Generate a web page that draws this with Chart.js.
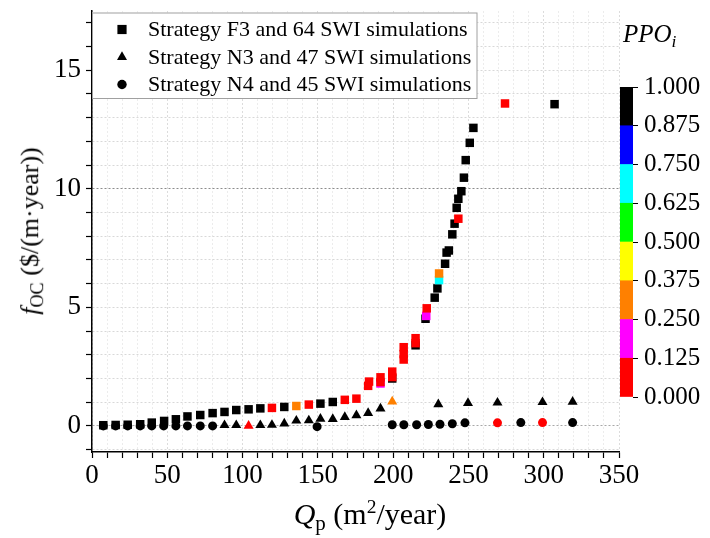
<!DOCTYPE html>
<html>
<head>
<meta charset="utf-8">
<script src="https://cdn.jsdelivr.net/npm/chart.js@4.4.0/dist/chart.umd.min.js"></script>
<style>
    html, body { margin: 0; padding: 0; background: #fff; }
    #contenedor { position: relative; width: 710px; height: 538px; overflow: hidden;
        font-family: "Liberation Serif", "Times New Roman", serif; color: #000; }
    #grafica-costos { position: absolute; left: 0; top: 0; }
    #grafica-ppo { position: absolute; left: 620px; top: 70px; }
    .titulo { position: absolute; white-space: nowrap; line-height: 1; }
    .titulo sub { font-size: 0.7em; vertical-align: -0.3em; }
    .titulo sup { font-size: 0.65em; vertical-align: 0.55em; }
    #titulo-x { left: 0; width: 740px; top: 497px; text-align: center; font-size: 30px; }
    #titulo-y { left: 32px; top: 231px; font-size: 26px; transform: translate(-50%, -50%) rotate(-90deg); }
    #titulo-ppo { left: 623px; top: 21px; font-size: 25px; }
</style>
</head>
<body>
<div id="contenedor">
    <canvas id="grafica-costos" width="710" height="538"></canvas>
    <canvas id="grafica-ppo" width="90" height="345"></canvas>
    <div class="titulo" id="titulo-x"><i>Q</i><sub>p</sub> (m<sup>2</sup>/year)</div>
    <div class="titulo" id="titulo-y"><i>f</i><sub>OC</sub> ($/(m·year))</div>
    <div class="titulo" id="titulo-ppo"><i>PPO<sub>i</sub></i></div>
</div>
<script>
//Etiquetas de los ejes
const ticksQ = [0, 50, 100, 150, 200, 250, 300, 350];
const ticksCosto = [0, 5, 10, 15];
const ticksPPO = [0, 0.125, 0.25, 0.375, 0.5, 0.625, 0.75, 0.875, 1];
const coloresPPO = ['#ff0000', '#ff00ff', '#ff8000', '#ffff00', '#00ff00', '#00ffff', '#0000ff', '#000000'];

//Estrategia F3 (64 simulaciones SWI)
const f3Q = [7.5, 15.7, 23.7, 32, 39.7, 47.9, 55.7, 63.4, 71.9, 80.1, 88, 95.8, 104, 111.8, 119.5, 127.7,
    135.7, 144, 151.7, 159.9, 167.9, 175.6, 183.4, 184, 191.6, 191.6, 191.6, 199.4, 199.4, 199.4,
    207, 207, 207, 214.9, 214.9, 214.9, 221.5, 222, 222.3, 227.6, 229.4, 230.5, 230.5, 234.5, 235.5,
    237, 239.3, 240.8, 243.3, 242.2, 243.3, 245.3, 247, 248.2, 250.9, 253.3, 274.3, 307.2];
const f3Costo = [0.03, 0.04, 0.05, 0.07, 0.14, 0.21, 0.28, 0.40, 0.46, 0.54, 0.59, 0.67, 0.70, 0.74, 0.76, 0.80,
    0.84, 0.90, 0.94, 1.01, 1.10, 1.15, 1.69, 1.87, 1.79, 1.85, 2.05, 2.0, 2.06, 2.29,
    2.80, 3.03, 3.32, 3.40, 3.49, 3.70, 4.52, 4.64, 4.96, 5.41, 5.80, 6.15, 6.43, 6.84, 7.31,
    7.40, 8.08, 8.53, 8.74, 9.20, 9.58, 9.90, 10.47, 11.21, 11.94, 12.57, 13.60, 13.57];
const f3PPO = [0.95, 0.95, 0.95, 0.95, 0.95, 0.95, 0.95, 0.95, 0.95, 0.95, 0.95, 0.95, 0.95, 0.95, 0.05, 0.95,
    0.3, 0.05, 0.95, 0.95, 0.05, 0.05, 0.05, 0.05, 0.2, 0.05, 0.05, 0.95, 0.05, 0.05,
    0.05, 0.05, 0.05, 0.95, 0.05, 0.05, 0.95, 0.2, 0.05, 0.95, 0.95, 0.7, 0.3, 0.95, 0.95,
    0.95, 0.95, 0.95, 0.05, 0.95, 0.95, 0.95, 0.95, 0.95, 0.95, 0.95, 0.05, 0.95];

//Estrategia N3 (47 simulaciones SWI)
const n3Q = [88, 95.8, 104, 111.8, 119.5, 127.7, 135.7, 144, 151.7, 159.9, 167.9, 175.6, 183.4, 191.6,
    199.4, 230, 249.7, 269.3, 299.2, 319.2];
const n3Costo = [0.03, 0.03, 0.0, 0.03, 0.04, 0.10, 0.22, 0.23, 0.30, 0.29, 0.37, 0.45, 0.54, 0.73,
    1.03, 0.91, 0.96, 0.98, 1.0, 1.02];
const n3PPO = [0.95, 0.95, 0.05, 0.95, 0.95, 0.95, 0.95, 0.95, 0.95, 0.95, 0.95, 0.95, 0.95, 0.95,
    0.3, 0.95, 0.95, 0.95, 0.95, 0.95];

//Estrategia N4 (45 simulaciones SWI)
const n4Q = [7.5, 15.7, 23.7, 32, 39.7, 47.6, 55.7, 63.4, 71.9, 80.1, 149.5, 199.4, 207.1, 215.6,
    223.4, 231.1, 239.3, 247.7, 269.3, 284.8, 299.2, 319.2];
const n4Costo = [0, 0, 0, 0, 0, 0, 0, 0, 0, 0, -0.03, 0.05, 0.05, 0.05,
    0.06, 0.07, 0.09, 0.13, 0.13, 0.14, 0.14, 0.14];
const n4PPO = [0.95, 0.95, 0.95, 0.95, 0.95, 0.95, 0.95, 0.95, 0.95, 0.95, 0.95, 0.95, 0.95, 0.95,
    0.95, 0.95, 0.95, 0.95, 0.05, 0.95, 0.05, 0.95];

const fuente = '"Liberation Serif", "Times New Roman", serif';

//Color según el intervalo de PPO
function colorPPO(v) {
    const i = Math.min(coloresPPO.length - 1, Math.floor(v / 0.125));
    return coloresPPO[i];
}

function puntos(qs, costos) {
    return qs.map((q, i) => ({ x: q, y: costos[i] }));
}

//Quitar el margen extra que Chart.js reserva para las etiquetas de los extremos
function sinMargen(s) {
    s.paddingTop = 0;
    s.paddingBottom = 0;
    s.paddingLeft = 0;
    s.paddingRight = 0;
}

//Leyenda con marco dentro del área de la gráfica
const leyendaMarco = {
    id: 'leyendaMarco',
    afterDatasetsDraw(chart) {
        const { ctx, chartArea } = chart;
        const x0 = chartArea.left, y0 = chartArea.top + 1.5;
        ctx.save();
        ctx.fillStyle = '#fff';
        ctx.fillRect(x0, y0, 385, 86);
        ctx.strokeStyle = '#a0a0a0';
        ctx.lineWidth = 1;
        ctx.strokeRect(x0 + 0.5, y0 + 0.5, 384.5, 85.5);
        chart.data.datasets.forEach((ds, i) => {
            const y = y0 + 17 + i * 27.5;
            ctx.fillStyle = '#000';
            Chart.helpers.drawPoint(ctx, { pointStyle: ds.pointStyle, radius: ds.radioLeyenda, borderWidth: 0, rotation: 0 }, x0 + 30, y);
            ctx.font = '22px ' + fuente;
            ctx.textBaseline = 'middle';
            ctx.textAlign = 'left';
            ctx.fillText(ds.label, x0 + 56, y + 1);
        });
        ctx.restore();
    }
};

document.addEventListener('DOMContentLoaded', function() {
    createCostosChart();
    createBarraPPO();
});

//Gráfica principal: costo frente a caudal
function createCostosChart() {
    const ctx = document.getElementById('grafica-costos').getContext('2d');
    new Chart(ctx, {
        type: 'scatter',
        data: {
            datasets: [{
                label: 'Strategy F3 and 64 SWI simulations',
                data: puntos(f3Q, f3Costo),
                pointStyle: 'rect',
                pointRadius: 6,
                radioLeyenda: 6.5,
                pointBackgroundColor: f3PPO.map(colorPPO),
                pointBorderWidth: 0
            }, {
                label: 'Strategy N3 and 47 SWI simulations',
                data: puntos(n3Q, n3Costo),
                pointStyle: 'triangle',
                pointRadius: 5.8,
                radioLeyenda: 5.8,
                pointBackgroundColor: n3PPO.map(colorPPO),
                pointBorderWidth: 0
            }, {
                label: 'Strategy N4 and 45 SWI simulations',
                data: puntos(n4Q, n4Costo),
                pointStyle: 'circle',
                pointRadius: 4.5,
                radioLeyenda: 4.7,
                pointBackgroundColor: n4PPO.map(colorPPO),
                pointBorderWidth: 0
            }]
        },
        options: {
            responsive: false,
            animation: false,
            layout: { padding: { top: 11, right: 91, left: 0, bottom: 0 } },
            plugins: {
                legend: { display: false },
                tooltip: { enabled: false }
            },
            scales: {
                x: {
                    type: 'linear',
                    min: 0,
                    max: 350,
                    afterFit: s => { sinMargen(s); s.height = 86; },
                    ticks: {
                        stepSize: 10,
                        autoSkip: false,
                        maxRotation: 0,
                        padding: 2,
                        color: '#000',
                        font: { family: fuente, size: 27 },
                        callback: v => ticksQ.includes(v) ? String(v) : ''
                    },
                    grid: {
                        color: c => c.tick && c.tick.value % 50 === 0 ? '#dcdcdc' : '#ececec',
                        tickColor: '#000',
                        tickLength: 6,
                        tickWidth: 1.2
                    },
                    border: { display: true, color: '#000', width: 1.5, dash: [2, 2] }
                },
                y: {
                    type: 'linear',
                    min: -1.1,
                    max: 17.5,
                    afterFit: s => { sinMargen(s); s.width = 92; },
                    ticks: {
                        stepSize: 1,
                        includeBounds: false,
                        autoSkip: false,
                        padding: 5,
                        color: '#000',
                        font: { family: fuente, size: 27 },
                        callback: v => ticksCosto.includes(v) ? String(v) : ''
                    },
                    grid: {
                        color: c => {
                            if (!c.tick) return '#dddddd';
                            if (c.tick.value === 10) return '#8c8c8c';
                            if (c.tick.value === 0) return '#a8a8a8';
                            return '#d8d8d8';
                        },
                        tickColor: '#000',
                        tickLength: 6,
                        tickWidth: 1.2
                    },
                    border: { display: true, color: '#000', width: 1.5, dash: [2, 2] }
                }
            }
        },
        plugins: [leyendaMarco]
    });
}

//Barra de colores de PPO
function createBarraPPO() {
    const ctx = document.getElementById('grafica-ppo').getContext('2d');
    new Chart(ctx, {
        type: 'bar',
        data: {
            labels: [''],
            datasets: coloresPPO.map((c, i) => ({
                data: [ticksPPO[i + 1] - ticksPPO[i]],
                backgroundColor: c,
                barPercentage: 1,
                categoryPercentage: 1
            }))
        },
        options: {
            responsive: false,
            animation: false,
            layout: { padding: { top: 17, bottom: 18, left: 0, right: 0 } },
            plugins: {
                legend: { display: false },
                tooltip: { enabled: false }
            },
            scales: {
                x: { display: false, stacked: true },
                y: {
                    stacked: true,
                    position: 'right',
                    min: 0,
                    max: 1,
                    afterFit: s => { sinMargen(s); s.width = 77; },
                    ticks: {
                        stepSize: 0.125,
                        autoSkip: false,
                        padding: 6,
                        color: '#000',
                        font: { family: fuente, size: 25 },
                        callback: v => Number(v).toFixed(3)
                    },
                    grid: { drawOnChartArea: false, tickLength: 5, tickColor: '#000' },
                    border: { display: false }
                }
            }
        }
    });
}
</script>
</body>
</html>
